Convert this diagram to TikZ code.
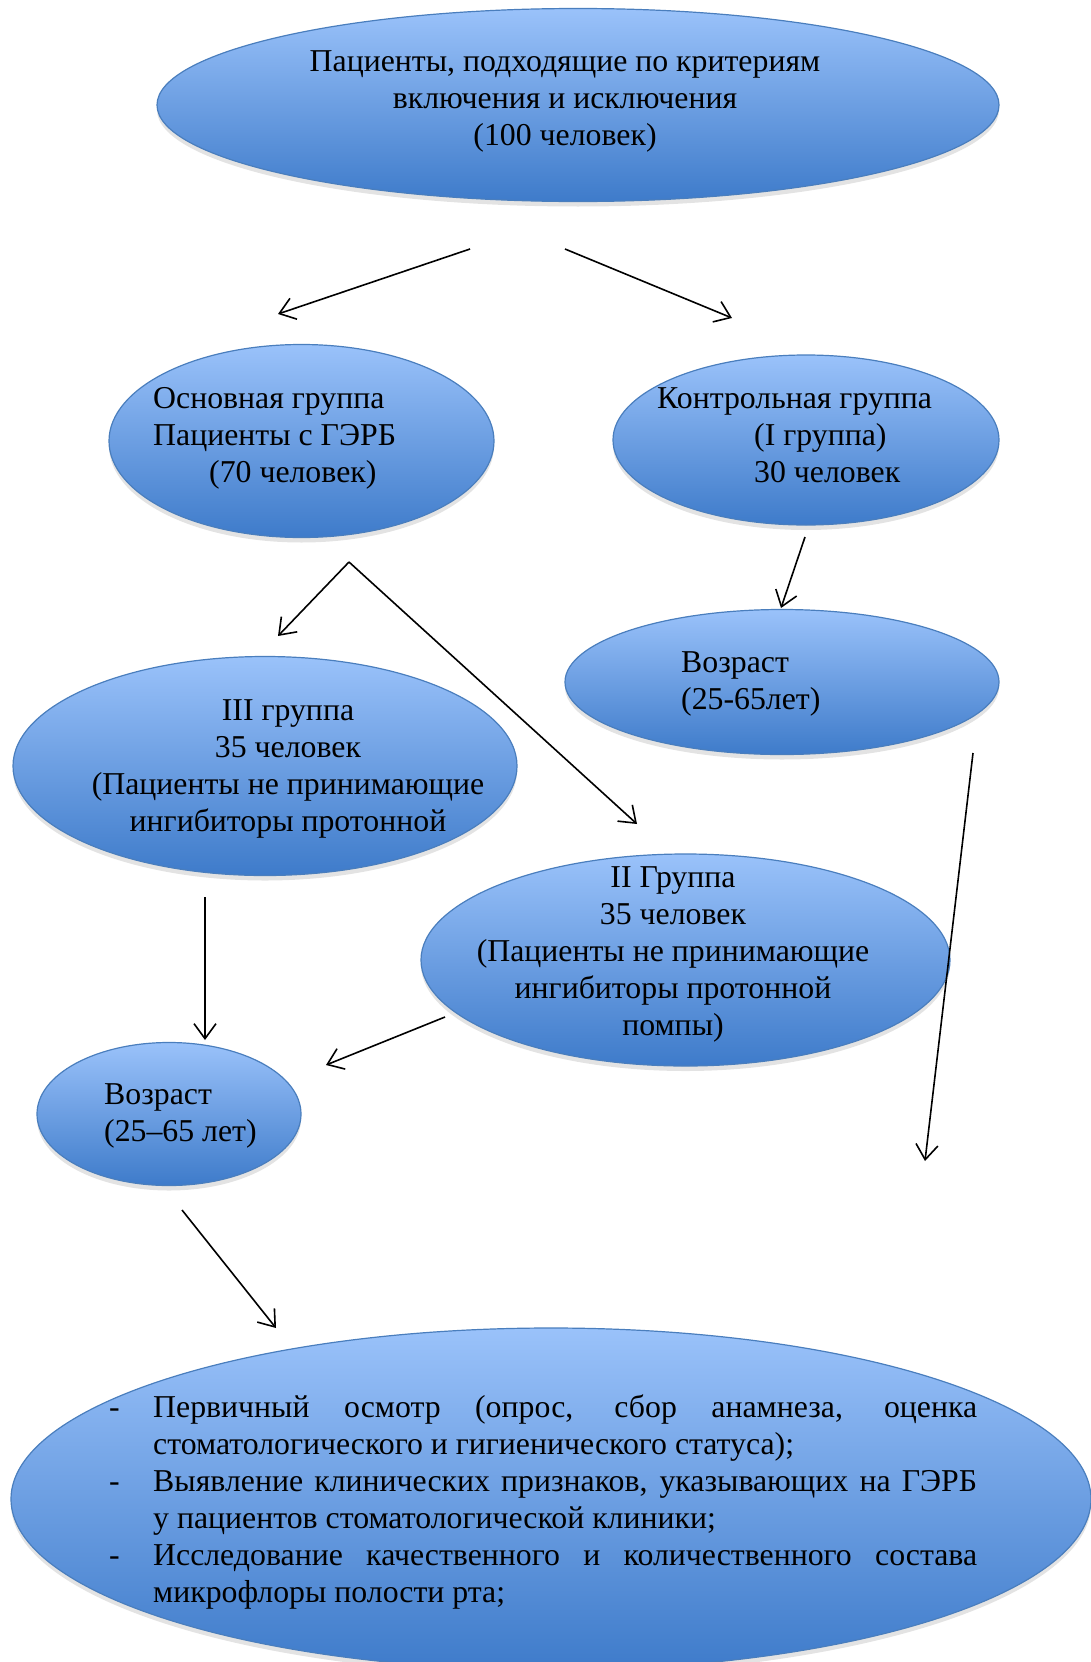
\documentclass[tikz,border=0pt]{standalone}
\usepackage{fontspec}
\setmainfont{Liberation Serif}
\usetikzlibrary{arrows.meta}
\usetikzlibrary{shapes}
\usetikzlibrary{shadows}
\definecolor{bubbletop}{RGB}{154,194,250}
\definecolor{bubblebot}{RGB}{62,123,202}
\definecolor{bubbleedge}{RGB}{74,126,189}
\tikzset{
  bubble/.style={
    ellipse, draw=bubbleedge, line width=1.2pt,
    top color=bubbletop, bottom color=bubblebot,
    drop shadow={shadow xshift=0pt, shadow yshift=-5pt, opacity=0.22},
    inner sep=0pt
  },
  bubbletext/.style={inner sep=0, font=\fontsize{31.8}{36.9}\selectfont},
  arrow/.style={-{Straight Barb[length=15pt,width=22pt]}, line width=1.6pt}
}
\begin{document}
\begin{tikzpicture}[x=1pt,y=-1pt]
  \useasboundingbox (0,0) rectangle (1091,1662);
  \node[bubble, minimum width=842, minimum height=193] (patients) at (578,105) {};
  \node[bubble, minimum width=385, minimum height=193] (main) at (301.5,441) {};
  \node[bubble, minimum width=386, minimum height=170] (control) at (806,440) {};
  \node[bubble, minimum width=434, minimum height=145] (ageright) at (782,682) {};
  \node[bubble, minimum width=504, minimum height=219] (group3) at (265,766) {};
  \node[bubble, minimum width=529, minimum height=212] (group2) at (685.5,960) {};
  \node[bubble, minimum width=264, minimum height=143] (ageleft) at (169,1114) {};
  \node[bubble, minimum width=1080, minimum height=342] (exam) at (551,1499) {};

  \node[bubbletext, anchor=base, align=center] (patientstext) at (565,145.5)
    {Пациенты, подходящие по критериям\\включения и исключения\\(100 человек)};
  \node[bubbletext, anchor=base west, align=left] (maintext) at (153,482.5)
    {Основная группа\\Пациенты с ГЭРБ\\\hspace*{56pt}(70 человек)};
  \node[bubbletext, anchor=base west, align=left] (controltext) at (657,482.5)
    {Контрольная группа\\\hspace*{97pt}(I группа)\\\hspace*{97pt}30 человек};
  \node[bubbletext, anchor=base west, align=left] (agerighttext) at (681,709.5)
    {Возраст\\(25-65лет)};
  \node[bubbletext, anchor=base, align=center] (group3text) at (288,831.5)
    {III группа\\35 человек\\(Пациенты не принимающие\\ингибиторы протонной};
  \node[bubbletext, anchor=base, align=center] (group2text) at (673,1035.5)
    {II Группа\\35 человек\\(Пациенты не принимающие\\ингибиторы протонной\\помпы)};
  \node[bubbletext, anchor=base west, align=left] (agelefttext) at (104,1141.5)
    {Возраст\\(25–65 лет)};
  \node[bubbletext, anchor=base west, text width=868pt, align=justify] (examtext) at (109,1417.5) {%
    \parindent=0pt
    \hangindent=44pt\hangafter=1\makebox[44pt][l]{-}Первичный осмотр (опрос, сбор анамнеза, оценка\linebreak стоматологического и гигиенического статуса);\par
    \hangindent=44pt\hangafter=1\makebox[44pt][l]{-}Выявление клинических признаков, указывающих на ГЭРБ\linebreak у пациентов стоматологической клиники;\par
    \hangindent=44pt\hangafter=1\makebox[44pt][l]{-}Исследование качественного и количественного состава\linebreak микрофлоры полости рта;\par};

  \coordinate (splitleft) at (470,249);
  \coordinate (splitright) at (565,249);
  \coordinate (mainin) at (278,314);
  \coordinate (controlin) at (732,318);
  \coordinate (controlout) at (805,537);
  \coordinate (agerightin) at (781,608);
  \coordinate (mainout) at (349,562);
  \coordinate (group3in) at (278,636);
  \coordinate (group2in) at (637,824);
  \coordinate (group3out) at (205,897);
  \coordinate (ageleftin) at (205,1040);
  \coordinate (group2out) at (445,1017);
  \coordinate (ageleftside) at (326,1065);
  \coordinate (agerightout) at (973,753);
  \coordinate (agerightend) at (925,1161);
  \coordinate (ageleftout) at (182,1210);
  \coordinate (examin) at (276,1328);

  \draw[arrow] (splitleft) -- (mainin);
  \draw[arrow] (splitright) -- (controlin);
  \draw[arrow] (controlout) -- (agerightin);
  \draw[arrow] (mainout) -- (group3in);
  \draw[arrow] (mainout) -- (group2in);
  \draw[arrow] (group3out) -- (ageleftin);
  \draw[arrow] (group2out) -- (ageleftside);
  \draw[arrow] (agerightout) -- (agerightend);
  \draw[arrow] (ageleftout) -- (examin);
\end{tikzpicture}
\end{document}
